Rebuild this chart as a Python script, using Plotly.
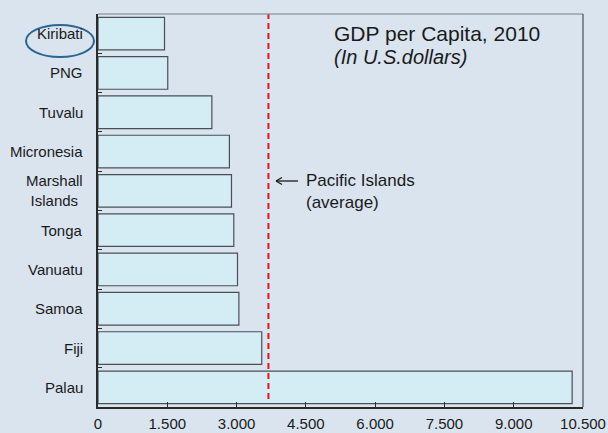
import plotly.graph_objects as go

countries = ["Kiribati", "PNG", "Tuvalu", "Micronesia", "Marshall<br>Islands",
             "Tonga", "Vanuatu", "Samoa", "Fiji", "Palau"]
gdp = [1440, 1510, 2465, 2845, 2890, 2940, 3020, 3050, 3545, 10265]
pacific_avg = 3690
x_ticks = [0, 1500, 3000, 4500, 6000, 7500, 9000, 10500]
x_ticklabels = ["0", "1.500", "3.000", "4.500", "6.000", "7.500", "9.000", "10.500"]

BG = "#d9e4ef"
FONT = "Liberation Sans, Arial, sans-serif"
TXT = "#1a1a1a"

L, R, T, B = 98, 25, 14, 26
W, H = 608, 433
PW, PH = W - L - R, H - T - B


def px(x):
    return (x - L) / PW


def py(y):
    return 1 - (y - T) / PH


fig = go.Figure()
fig.add_trace(go.Bar(
    x=gdp, y=list(range(len(countries))), orientation="h", width=0.83,
    marker=dict(color="#d4edf4", line=dict(color="#4a4f55", width=1.2)),
    hovertext=countries, hoverinfo="x+text",
))

# category labels as annotations (centered multi-line)
for i, c in enumerate(countries):
    fig.add_annotation(xref="paper", yref="y", x=px(85), y=i, text=c,
                       showarrow=False, xanchor="right", yanchor="middle",
                       align="center", font=dict(family=FONT, size=15, color=TXT))

fig.add_shape(type="line", xref="x", yref="paper",
              x0=pacific_avg, x1=pacific_avg, y0=py(399), y1=1,
              line=dict(color="#e8141c", width=2, dash="6px,4px"))

fig.add_annotation(xref="paper", yref="paper", x=px(332), y=py(33),
                   text="GDP per Capita, 2010", showarrow=False, xanchor="left", yanchor="middle",
                   font=dict(family=FONT, size=21, color=TXT))
fig.add_annotation(xref="paper", yref="paper", x=px(332), y=py(57),
                   text="<i>(In U.S.dollars)</i>", showarrow=False, xanchor="left", yanchor="middle",
                   font=dict(family=FONT, size=20, color=TXT))
fig.add_annotation(xref="paper", yref="paper", x=px(304), y=py(191),
                   text="Pacific Islands<br>(average)", showarrow=False, xanchor="left", yanchor="middle",
                   align="left", font=dict(family=FONT, size=17, color=TXT))

# arrow pointing to the average line
for (xa, ya, xb, yb) in [(276, 181, 298, 181), (276, 181, 282, 177.5), (276, 181, 282, 184.5)]:
    fig.add_shape(type="line", xref="paper", yref="paper",
                  x0=px(xa), y0=py(ya), x1=px(xb), y1=py(yb),
                  line=dict(color=TXT, width=1.3))

# ellipse around Kiribati label
fig.add_shape(type="circle", xref="paper", yref="paper",
              x0=px(26), x1=px(94), y0=py(57), y1=py(25),
              line=dict(color="#2b6592", width=2))

fig.update_layout(
    width=W, height=H,
    margin=dict(l=L, r=R, t=T, b=B, autoexpand=False),
    paper_bgcolor=BG, plot_bgcolor=BG,
    showlegend=False,
    font=dict(family=FONT, size=15, color=TXT),
    xaxis=dict(range=[0, 10500], tickvals=x_ticks, ticktext=x_ticklabels,
               showgrid=False, zeroline=False, showline=True, linecolor="#2a2a2a",
               linewidth=1.5, ticks="inside", ticklen=5, automargin=False,
               ticklabelstandoff=2,
               tickcolor="#2a2a2a", fixedrange=True,
               tickfont=dict(family=FONT, size=15, color=TXT)),
    yaxis=dict(range=[len(countries) - 0.5, -0.5], showgrid=False, showline=True,
               zeroline=False, automargin=False,
               linecolor="#2a2a2a", linewidth=1.5, ticks="inside", ticklen=4,
               tickcolor="#2a2a2a", tickvals=[i + 0.5 for i in range(-1, len(countries))],
               showticklabels=False, fixedrange=True),
)
# top and right border
fig.add_shape(type="line", xref="paper", yref="paper", x0=0, x1=1, y0=1, y1=1,
              line=dict(color="#7a8088", width=1.2))
fig.add_shape(type="line", xref="paper", yref="paper", x0=1, x1=1, y0=0, y1=1,
              line=dict(color="#4a4f55", width=1.2))

fig.write_html("out.html")
